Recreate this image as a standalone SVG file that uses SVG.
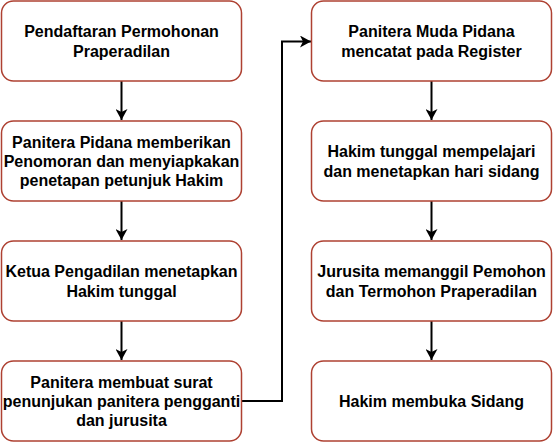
<svg xmlns="http://www.w3.org/2000/svg" width="553" height="442" viewBox="0 0 553 442">
<style>
.box{fill:#ffffff;stroke:#ae4132;stroke-width:1.5}
.t{font-family:"Liberation Sans",Arial,sans-serif;font-size:16px;font-weight:bold;fill:#000000;text-anchor:middle}
.c{fill:none;stroke:#000000;stroke-width:2}
</style>
<defs>
<marker id="arr" markerWidth="12" markerHeight="12" viewBox="0 0 12 12" refX="11" refY="6" orient="auto" markerUnits="userSpaceOnUse">
<path d="M0,0 L11,6 L0,12 L3,6 Z" fill="#000000"/>
</marker>
</defs>
<g id="connectors">
<path class="c" d="M121.5,81 V120" marker-end="url(#arr)"/>
<path class="c" d="M121.5,201 V240" marker-end="url(#arr)"/>
<path class="c" d="M121.5,321 V360" marker-end="url(#arr)"/>
<path class="c" d="M241.5,401 H282 V41.5 H311" marker-end="url(#arr)"/>
<path class="c" d="M431.5,81 V120" marker-end="url(#arr)"/>
<path class="c" d="M431.5,201 V240" marker-end="url(#arr)"/>
<path class="c" d="M431.5,321 V360" marker-end="url(#arr)"/>
</g>
<g id="n1">
<rect class="box" x="1.5" y="1" width="240" height="80" rx="12"/>
<text class="t" x="121.5" y="36.6">Pendaftaran Permohonan</text>
<text class="t" x="121.5" y="56.6">Praperadilan</text>
</g>
<g id="n2">
<rect class="box" x="1.5" y="121" width="240" height="80" rx="12"/>
<text class="t" x="121.5" y="147.6">Panitera Pidana memberikan</text>
<text class="t" x="121.5" y="166.6">Penomoran dan menyiapkakan</text>
<text class="t" x="121.5" y="185.6">penetapan petunjuk Hakim</text>
</g>
<g id="n3">
<rect class="box" x="1.5" y="241" width="240" height="80" rx="12"/>
<text class="t" x="121.5" y="276.6">Ketua Pengadilan menetapkan</text>
<text class="t" x="121.5" y="296.6">Hakim tunggal</text>
</g>
<g id="n4">
<rect class="box" x="1.5" y="361" width="240" height="80" rx="12"/>
<text class="t" x="121.5" y="387.6">Panitera membuat surat</text>
<text class="t" x="121.5" y="406.6">penunjukan panitera pengganti</text>
<text class="t" x="121.5" y="425.6">dan jurusita</text>
</g>
<g id="n5">
<rect class="box" x="311.5" y="1" width="240" height="80" rx="12"/>
<text class="t" x="431.5" y="36.6">Panitera Muda Pidana</text>
<text class="t" x="431.5" y="56.6">mencatat pada Register</text>
</g>
<g id="n6">
<rect class="box" x="311.5" y="121" width="240" height="80" rx="12"/>
<text class="t" x="431.5" y="156.6">Hakim tunggal mempelajari</text>
<text class="t" x="431.5" y="176.6">dan menetapkan hari sidang</text>
</g>
<g id="n7">
<rect class="box" x="311.5" y="241" width="240" height="80" rx="12"/>
<text class="t" x="431.5" y="276.6">Jurusita memanggil Pemohon</text>
<text class="t" x="431.5" y="296.6">dan Termohon Praperadilan</text>
</g>
<g id="n8">
<rect class="box" x="311.5" y="361" width="240" height="80" rx="12"/>
<text class="t" x="431.5" y="406.6">Hakim membuka Sidang</text>
</g>
</svg>
